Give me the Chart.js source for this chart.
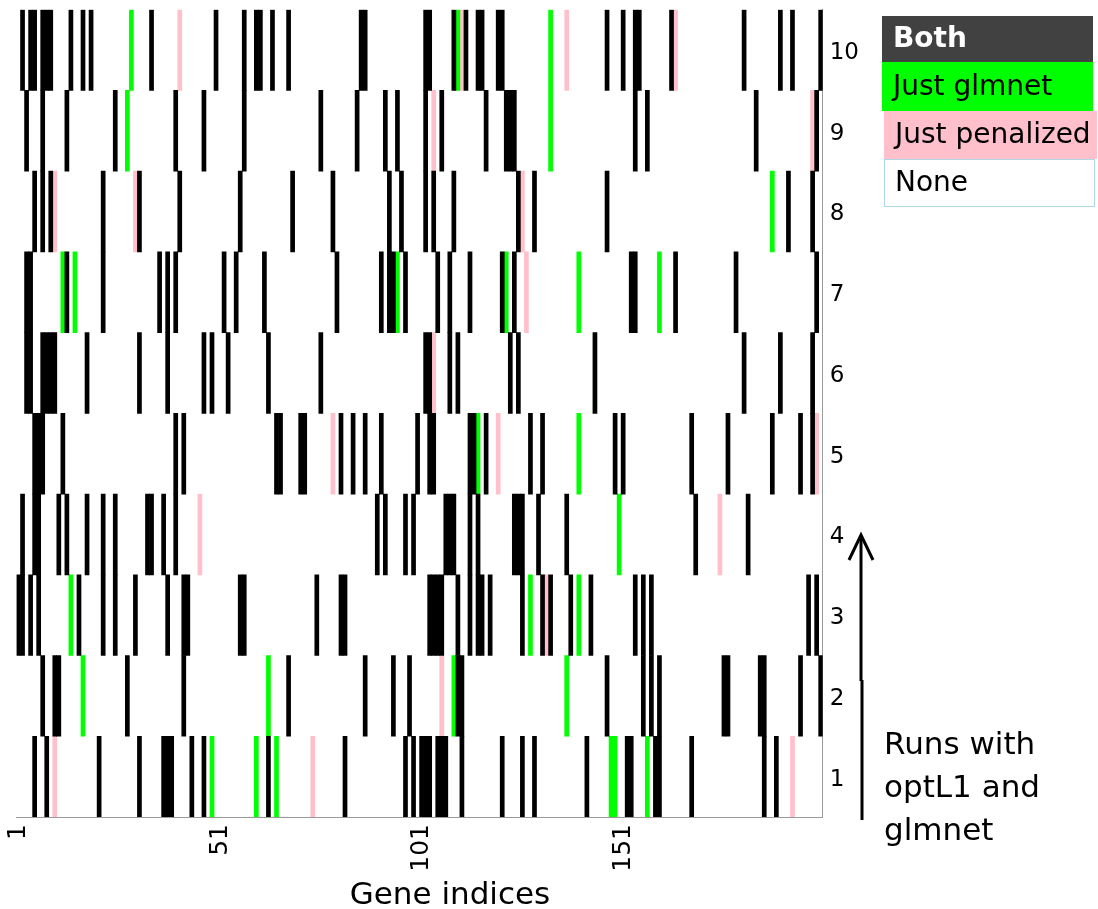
<!DOCTYPE html>
<html>
<head>
<meta charset="utf-8">
<title>Gene selection per run</title>
<script src="https://cdn.jsdelivr.net/npm/chart.js@4.4.1/dist/chart.umd.min.js"></script>
<style>
  html, body { margin: 0; padding: 0; background: #fff; }
  canvas { display: block; }
</style>
</head>
<body>
<canvas id="grafico" width="1098" height="909"></canvas>
<script>
// genes 1..200 on x, runs 1..10 on y
const geneLabels = Array.from({ length: 200 }, (_, i) => String(i + 1));
const runLabels = [1, 2, 3, 4, 5, 6, 7, 8, 9, 10];
const tickGenes = [1, 51, 101, 151];

// selected genes per run (index 0 = run 1)
const bothByRun = [
  [5, 8, 21, 31, 37, 38, 39, 44, 47, 63, 82, 97, 99, 101, 102, 103, 105, 106, 107, 111, 121, 126, 129, 142, 152, 153, 159, 160, 168, 186, 189],
  [7, 10, 11, 28, 42, 68, 87, 94, 98, 110, 111, 147, 156, 158, 160, 176, 177, 185, 186, 195, 200],
  [1, 2, 4, 6, 16, 22, 25, 30, 38, 42, 43, 56, 57, 75, 81, 82, 103, 104, 105, 106, 110, 113, 115, 116, 118, 126, 131, 133, 138, 143, 154, 156, 158, 197, 199],
  [2, 5, 6, 11, 13, 18, 22, 25, 33, 34, 37, 40, 90, 92, 97, 99, 107, 108, 109, 113, 115, 124, 125, 126, 130, 137, 169, 182],
  [5, 6, 7, 12, 40, 42, 65, 66, 71, 72, 81, 84, 87, 91, 100, 103, 104, 113, 114, 117, 128, 131, 149, 151, 168, 177, 188, 195, 198],
  [3, 4, 7, 8, 9, 10, 18, 31, 38, 47, 49, 53, 63, 76, 102, 103, 108, 110, 123, 125, 144, 181, 190, 198],
  [3, 4, 13, 22, 36, 38, 40, 52, 55, 62, 80, 91, 93, 94, 97, 105, 108, 113, 121, 124, 153, 154, 164, 179, 199],
  [5, 7, 9, 22, 31, 41, 56, 69, 79, 93, 96, 102, 104, 109, 125, 129, 147, 192, 198],
  [3, 7, 13, 25, 40, 47, 57, 76, 85, 92, 95, 102, 106, 117, 122, 123, 124, 154, 157, 184, 199],
  [2, 4, 5, 7, 8, 9, 14, 17, 19, 34, 50, 57, 60, 61, 64, 68, 86, 87, 102, 103, 109, 112, 115, 116, 120, 121, 147, 151, 154, 155, 163, 181, 190, 193, 200]
];
const glmnetOnlyByRun = [
  [49, 60, 65, 148, 149, 157],
  [17, 63, 109, 137],
  [14, 128, 140],
  [150],
  [115, 140],
  [],
  [12, 15, 95, 122, 140, 160],
  [188],
  [28, 133],
  [29, 110, 133]
];
const penalizedOnlyByRun = [
  [10, 74, 193],
  [106],
  [132],
  [46, 175],
  [79, 120, 199],
  [104],
  [127],
  [10, 30, 126],
  [104, 198],
  [41, 111, 137, 164]
];

const categorias = [
  { nombre: 'Both', genes: bothByRun, color: '#000000', caja: '#414141', texto: '#ffffff', negrita: true },
  { nombre: 'Just glmnet', genes: glmnetOnlyByRun, color: '#00ff00', caja: '#00ff00', texto: '#000000' },
  { nombre: 'Just penalized', genes: penalizedOnlyByRun, color: '#ffc0cb', caja: '#ffc0cb', texto: '#000000' },
  { nombre: 'None', genes: null, color: '#ffffff', caja: '#ffffff', texto: '#000000', borde: '#add8e6' }
];

// one floating-bar dataset per run and category, each bar spans its run's row
const datasets = [];
categorias.forEach(function (cat) {
  if (!cat.genes) return;
  runLabels.forEach(function (run, r) {
    const marcados = cat.genes[r];
    if (!marcados.length) return;
    datasets.push({
      label: cat.nombre + ' ' + run,
      data: geneLabels.map((_, i) => marcados.includes(i + 1) ? [run - 0.5, run + 0.5] : null),
      backgroundColor: cat.color,
      borderWidth: 0,
      barPercentage: 1,
      categoryPercentage: 1,
      grouped: false
    });
  });
});

// legend boxes, arrow, side note and x title
const notas = {
  id: 'notas',
  afterDraw(chart) {
    const ctx = chart.ctx;
    ctx.save();
    const cajas = [
      { x: 882, y: 16, w: 211, h: 46 },
      { x: 882, y: 62, w: 211, h: 49 },
      { x: 884, y: 111, w: 213, h: 48 },
      { x: 884, y: 159, w: 211, h: 48 }
    ];
    categorias.forEach(function (cat, i) {
      const c = cajas[i];
      ctx.fillStyle = cat.caja;
      ctx.fillRect(c.x, c.y, c.w, c.h);
      if (cat.borde) {
        ctx.strokeStyle = cat.borde;
        ctx.lineWidth = 1;
        ctx.strokeRect(c.x + 0.5, c.y + 0.5, c.w - 1, c.h - 1);
      }
      ctx.fillStyle = cat.texto;
      ctx.font = (cat.negrita ? 'bold ' : '') + '28px "DejaVu Sans"';
      ctx.textAlign = 'left';
      ctx.textBaseline = 'middle';
      ctx.fillText(cat.nombre, c.x + 11, c.y + c.h / 2 + 1);
    });

    // arrow pointing up along the runs
    ctx.strokeStyle = '#000';
    ctx.lineWidth = 3;
    ctx.lineCap = 'butt';
    ctx.beginPath();
    ctx.moveTo(862, 820);
    ctx.lineTo(862, 680);
    ctx.moveTo(861, 681);
    ctx.lineTo(861, 536);
    ctx.stroke();
    ctx.beginPath();
    ctx.moveTo(849, 560);
    ctx.lineTo(861, 535);
    ctx.lineTo(873, 560);
    ctx.stroke();

    ctx.fillStyle = '#000';
    ctx.font = '31px "DejaVu Sans"';
    ctx.textAlign = 'left';
    ctx.textBaseline = 'alphabetic';
    ['Runs with', 'optL1 and', 'glmnet'].forEach(function (linea, i) {
      ctx.fillText(linea, 884, 754 + i * 43);
    });

    ctx.textAlign = 'center';
    ctx.fillText('Gene indices', 450, 904);
    ctx.restore();
  }
};

Chart.defaults.font.family = '"DejaVu Sans", sans-serif';

const ctx = document.getElementById('grafico').getContext('2d');
new Chart(ctx, {
  type: 'bar',
  data: { labels: geneLabels, datasets: datasets },
  options: {
    responsive: false,
    animation: false,
    layout: { padding: { left: 16.5, top: 9.7, right: 0, bottom: 0 } },
    plugins: {
      legend: { display: false },
      tooltip: { enabled: false }
    },
    scales: {
      x: {
        type: 'category',
        grid: { display: false, drawTicks: false },
        border: { display: true, color: '#9a9a9a', width: 1 },
        ticks: {
          autoSkip: false,
          minRotation: 90,
          maxRotation: 90,
          padding: 7,
          color: '#000',
          font: { size: 25 },
          callback: function (valor, i) {
            return tickGenes.includes(i + 1) ? geneLabels[i] : '';
          }
        },
        afterFit: function (escala) {
          escala.height = 92;
          escala.paddingLeft = 0;
          escala.paddingRight = 0;
        }
      },
      y: {
        type: 'linear',
        position: 'right',
        min: 0.5,
        max: 10.5,
        grid: { display: false, drawTicks: false },
        border: { display: true, color: '#9a9a9a', width: 1 },
        ticks: { padding: 7, labelOffset: 3, color: '#000', font: { size: 23 } },
        afterBuildTicks: function (escala) {
          escala.ticks = runLabels.map(v => ({ value: v }));
        },
        afterFit: function (escala) {
          escala.width = 1098 - 822.7;
          escala.paddingTop = 0;
          escala.paddingBottom = 0;
        }
      }
    }
  },
  plugins: [notas]
});
</script>
</body>
</html>
